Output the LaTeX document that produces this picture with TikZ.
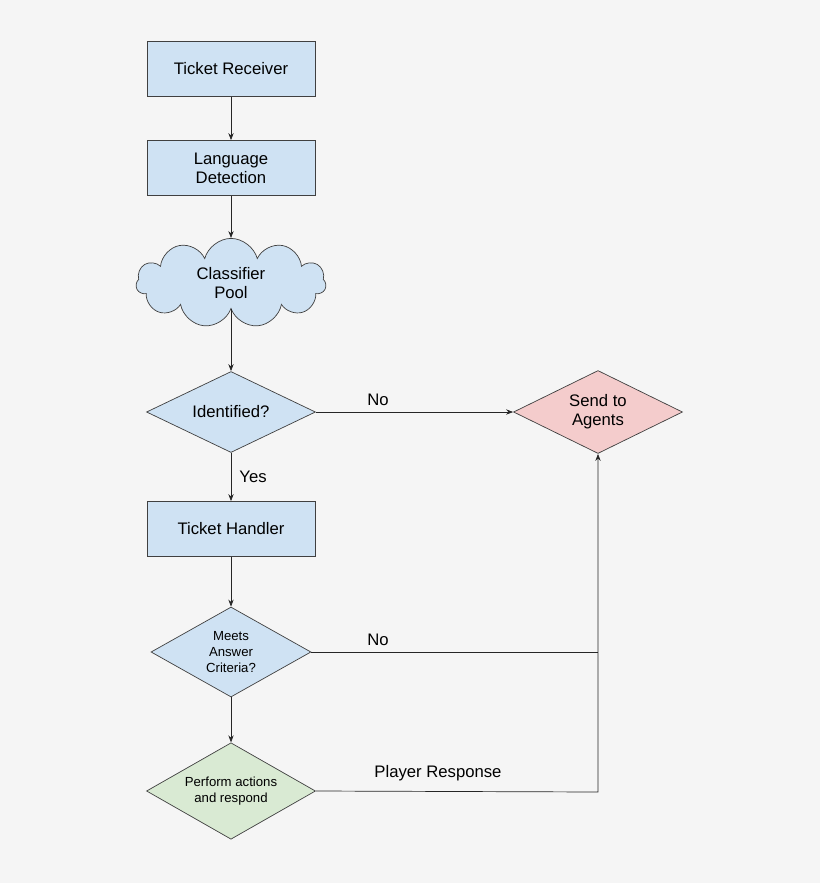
\documentclass[tikz,border=0pt]{standalone}
\usepackage{fontspec}
\setmainfont{Liberation Sans}
\usetikzlibrary{shapes.geometric,shapes.symbols,arrows.meta}
\definecolor{boxblue}{HTML}{CFE2F3}
\definecolor{agentpink}{HTML}{F4CCCC}
\definecolor{actgreen}{HTML}{D9EAD3}
\definecolor{bggray}{HTML}{F5F5F5}
\begin{document}
\begin{tikzpicture}[x=0.02cm,y=-0.02cm,
  box/.style={draw=black!75,fill=boxblue,minimum width=3.36cm,minimum height=1.1cm,align=center,font=\fontsize{9.5}{11}\selectfont},
  dia/.style={draw=black!75,diamond,aspect=2.1,inner sep=0pt,minimum width=3.38cm,minimum height=1.62cm,align=center,font=\fontsize{9.5}{11}\selectfont},
  arr/.style={draw=black!85,-{Stealth[length=4pt,width=3pt]}},
  lbl/.style={font=\fontsize{9.5}{11}\selectfont}]

% Background
\fill[bggray] (0,0) rectangle (820,883);

% Nodes
\node[box] (receiver) at (231,69) {Ticket Receiver};
\node[box] (language) at (231,168) {Language\\Detection};
\node[draw=black!75,fill=boxblue,cloud,cloud puffs=11,aspect=2.3,minimum width=3.8cm,minimum height=1.5cm,align=center,font=\fontsize{9.5}{11}\selectfont] (pool) at (231,283) {Classifier\\Pool};
\node[dia,fill=boxblue] (identified) at (231,412) {Identified?};
\node[dia,fill=agentpink,minimum height=1.66cm] (agents) at (598,412) {Send to\\Agents};
\node[box] (handler) at (231,529) {Ticket Handler};
\node[dia,fill=boxblue,minimum width=3.2cm,minimum height=1.8cm,font=\fontsize{7.5}{9}\selectfont] (criteria) at (231,652) {Meets\\Answer\\Criteria?};
\node[dia,fill=actgreen,minimum height=1.93cm,font=\fontsize{7.5}{9}\selectfont] (perform) at (231,791) {Perform actions\\and respond};
\coordinate (critjoin) at (598,652);
\coordinate (perfjoin) at (598,792);

% Connectors
\draw[arr] (receiver) -- (language);
\draw[arr] (language) -- (pool);
\draw[arr] (pool) -- (identified);
\draw[arr] (identified) -- (agents);
\draw[arr] (identified) -- (handler);
\draw[arr] (handler) -- (criteria);
\draw[arr] (criteria) -- (perform);
\draw[draw=black!85] (criteria.east) -- (critjoin);
\draw[arr] (perform.east) -- (perfjoin) -- (agents.south);

% Labels
\node[lbl] (nofirst) at (378,400) {No};
\node[lbl] (yes) at (253,477) {Yes};
\node[lbl] (nosecond) at (378,640) {No};
\node[lbl] (response) at (438,773) {Player Response};
\end{tikzpicture}
\end{document}
